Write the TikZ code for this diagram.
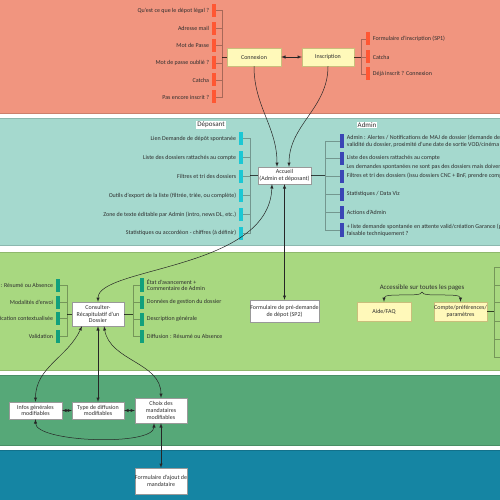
\documentclass[tikz,border=0pt]{standalone}
\usepackage{fontspec}
\setmainfont{Carlito}
\definecolor{saumon}{HTML}{F1957F}
\definecolor{turquoise}{HTML}{A5D9CE}
\definecolor{vertclair}{HTML}{A8D880}
\definecolor{vertfonce}{HTML}{56A878}
\definecolor{bleufond}{HTML}{1585A3}
\definecolor{repRouge}{HTML}{FF5733}
\definecolor{repCyan}{HTML}{1BC8D4}
\definecolor{repBleu}{HTML}{3A45B5}
\definecolor{repVert}{HTML}{12A07C}
\definecolor{jaunefond}{HTML}{FFF9BA}
\definecolor{jaunebord}{HTML}{C9BE7C}
\definecolor{texte}{HTML}{2E2E2E}
\begin{document}
\begin{tikzpicture}[x=1pt,y=1pt]
\tikzstyle{every node}=[font=\fontsize{6}{6.8}\selectfont,text=texte,inner sep=0pt,align=center]
\tikzstyle{every label}=[inner sep=2.5pt,align=left]
\tikzstyle{bloc}=[draw=black!40,fill=white,minimum width=53pt,minimum height=17pt]
\tikzstyle{jaune}=[draw=jaunebord,fill=jaunefond,minimum width=54pt,minimum height=18pt]
\tikzstyle{rep}=[minimum width=4pt,minimum height=13pt]
\tikzstyle{titre}=[fill=white,inner sep=1pt,font=\fontsize{7}{8}\selectfont]
\tikzstyle{lien}=[draw=black,draw opacity=0.3,line width=0.5pt]
\tikzstyle{tige}=[draw=black,draw opacity=0.7,line width=0.5pt]
\tikzstyle{fl}=[>=latex,line width=0.5pt,black!85]
\clip (0,0) rectangle (500,-500);
\fill[white] (0,0) rectangle (500,-500);

% bandes
\draw[fill=saumon,draw=saumon!85!black,line width=0.6pt] (-2,2) rectangle (502,-113);
\draw[fill=turquoise,draw=turquoise!85!black,line width=0.6pt] (-2,-118) rectangle (502,-245);
\draw[fill=vertclair,draw=vertclair!85!black,line width=0.6pt] (-2,-252) rectangle (502,-370);
\draw[fill=vertfonce,draw=vertfonce!85!black,line width=0.6pt] (-2,-375) rectangle (502,-445);
\draw[fill=bleufond,draw=bleufond!85!black,line width=0.6pt] (-2,-450) rectangle (502,-502);

% connexion / inscription
\draw (254,-57) node (cnx) [jaune] {Connexion};
\draw (328,-57) node (ins) [jaune,minimum width=52pt] {Inscription};
\draw [fl,<->] (cnx) -- (ins);

\draw (214,-10.5) node (c1) [rep,fill=repRouge,label={left:{Qu'est ce que le dépot légal ?}}] {};
\draw (214,-28.5) node (c2) [rep,fill=repRouge,label={left:{Adresse mail}}] {};
\draw (214,-45.5) node (c3) [rep,fill=repRouge,label={left:{Mot de Passe}}] {};
\draw (214,-63) node (c4) [rep,fill=repRouge,label={left:{Mot de passe oublié ?}}] {};
\draw (214,-80) node (c5) [rep,fill=repRouge,label={left:{Catcha}}] {};
\draw (214,-97) node (c6) [rep,fill=repRouge,label={left:{Pas encore inscrit ?}}] {};
\coordinate (jc) at (222,-57);
\draw [tige] (jc) -- (cnx.west);
\draw [lien] (c1.east) -| (jc) (c2.east) -| (jc) (c3.east) -| (jc) (c4.east) -| (jc) (c5.east) -| (jc) (c6.east) -| (jc);

\draw (368,-39) node (i1) [rep,fill=repRouge,label={right:{Formulaire d'inscription (SP1)}}] {};
\draw (368,-57) node (i2) [rep,fill=repRouge,label={right:{Catcha}}] {};
\draw (368,-74) node (i3) [rep,fill=repRouge,label={right:{Déjà inscrit ? Connexion}}] {};
\coordinate (ji) at (361,-57);
\draw [tige] (ins.east) -- (ji);
\draw [lien] (i1.west) -| (ji) (i2.west) -| (ji) (i3.west) -| (ji);

% accueil
\draw (284.5,-175.5) node (acc) [bloc] {Accueil\\(Admin et déposant)};
\draw [fl,->] (cnx.south) to [out=-90,in=90] ([xshift=-7.5pt]acc.north);
\draw [fl,->] (ins.south) to [out=-90,in=90] ([xshift=4.5pt]acc.north);
\draw (211,-125) node (dep) [titre] {Déposant};
\draw (367,-125) node (adm) [titre] {Admin};

\draw (241,-138.5) node (d1) [rep,fill=repCyan,label={left:{Lien Demande de dépôt spontanée}}] {};
\draw (241,-157.5) node (d2) [rep,fill=repCyan,label={left:{Liste des dossiers rattachés au compte}}] {};
\draw (241,-176.5) node (d3) [rep,fill=repCyan,label={left:{Filtres et tri des dossiers}}] {};
\draw (241,-195.5) node (d4) [rep,fill=repCyan,label={left:{Outils d'export de la liste (filtrée, triée, ou complète)}}] {};
\draw (241,-214.5) node (d5) [rep,fill=repCyan,label={left:{Zone de texte éditable par Admin (intro, news DL, etc.)}}] {};
\draw (241,-233) node (d6) [rep,fill=repCyan,label={left:{Statistiques ou accordéon - chiffres (à définir)}}] {};
\coordinate (jd) at (250,-175.5);
\draw [tige] (jd) -- (acc.west);
\draw [lien] (d1.east) -| (jd) (d2.east) -| (jd) (d3.east) -| (jd) (d4.east) -| (jd) (d5.east) -| (jd) (d6.east) -| (jd);

\draw (342,-141) node (a1) [rep,fill=repBleu,minimum height=14pt,label={right:{Admin : Alertes / Notifications de MAJ de dossier (demande de dépôt\\validité du dossier, proximité d'une date de sortie VOD/cinéma d'un}}] {};
\draw (342,-158) node (a2) [rep,fill=repBleu,label={right:{Liste des dossiers rattachés au compte}}] {};
\draw (344,-167) node (a0) [anchor=west,inner sep=2.5pt] {Les demandes spontanées ne sont pas des dossiers mais doivent apparaître};
\draw (342,-176) node (a3) [rep,fill=repBleu,label={right:{Filtres et tri des dossiers (issu dossiers CNC + BnF, prendre compte}}] {};
\draw (342,-194) node (a4) [rep,fill=repBleu,label={right:{Statistiques / Data Viz}}] {};
\draw (342,-212) node (a5) [rep,fill=repBleu,label={right:{Actions d'Admin}}] {};
\draw (342,-230) node (a6) [rep,fill=repBleu,minimum height=14pt,label={right:{+ liste demande spontanée en attente valid/création Garance (pour\\faisable techniquement ?}}] {};
\coordinate (ja) at (325,-175.5);
\draw [tige] (acc.east) -- (ja);
\draw [lien] (a1.west) -| (ja) (a2.west) -| (ja) (a3.west) -| (ja) (a4.west) -| (ja) (a5.west) -| (ja) (a6.west) -| (ja);

% pages
\draw (284.5,-311) node (sp2) [bloc,minimum width=67pt,minimum height=22pt] {Formulaire de pré-demande\\de dépot (SP2)};
\draw [fl,<->] (acc.south) -- (sp2.north);
\draw (422,-287.5) node (acs) [font=\fontsize{6.8}{8}\selectfont] {Accessible sur toutes les pages};
\draw (384,-311.5) node (aide) [jaune,minimum height=19pt] {Aide/FAQ};
\draw (460.5,-311.5) node (cpt) [jaune,minimum width=53pt,minimum height=19pt] {Compte/préférences/\\paramètres};
\coordinate (pointe) at (422,-292);
\draw [fl,->] (pointe) .. controls (422,-298) and (384,-292) .. (aide.north);
\draw [fl,->] (pointe) .. controls (422,-298) and (460.5,-292) .. (cpt.north);
\coordinate (jr) at (494,-311.5);
\draw [tige] (cpt.east) -- (jr);
\coordinate (r1) at (502,-267);
\coordinate (r2) at (502,-285);
\coordinate (r3) at (502,-302.5);
\coordinate (r4) at (502,-321);
\coordinate (r5) at (502,-339);
\coordinate (r6) at (502,-357);
\draw [lien] (r1) -| (jr) (r2) -| (jr) (r3) -| (jr) (r4) -| (jr) (r5) -| (jr) (r6) -| (jr);

% dossier
\draw (98,-314) node (cons) [bloc,minimum width=52pt,minimum height=24pt] {Consulter-\\Récapitulatif d'un\\Dossier};
\draw [fl,<->] ([xshift=-12.5pt]acc.south) to [out=-92,in=90,out distance=86pt,in distance=35pt] (cons.north);

\draw (58,-285) node (g1) [rep,fill=repVert,label={left:{Diffusion : Résumé ou Absence}}] {};
\draw (58,-302) node (g2) [rep,fill=repVert,label={left:{Modalités d'envoi}}] {};
\draw (58,-318.5) node (g3) [rep,fill=repVert,label={left:{Justification contextualisée}}] {};
\draw (58,-336) node (g4) [rep,fill=repVert,label={left:{Validation}}] {};
\coordinate (jg) at (67,-314);
\draw [tige] (jg) -- (cons.west);
\draw [lien] (g1.east) -| (jg) (g2.east) -| (jg) (g3.east) -| (jg) (g4.east) -| (jg);

\draw (142,-285) node (h1) [rep,fill=repVert,minimum height=14pt,label={right:{État d'avancement +\\Commentaire de Admin}}] {};
\draw (142,-302) node (h2) [rep,fill=repVert,label={right:{Données de gestion du dossier}}] {};
\draw (142,-319) node (h3) [rep,fill=repVert,label={right:{Description générale}}] {};
\draw (142,-336) node (h4) [rep,fill=repVert,label={right:{Diffusion : Résumé ou Absence}}] {};
\coordinate (jh) at (133,-314);
\draw [tige] (cons.east) -- (jh);
\draw [lien] (h1.west) -| (jh) (h2.west) -| (jh) (h3.west) -| (jh) (h4.west) -| (jh);

% modifications
\draw (35.5,-410.5) node (inf) [bloc] {Infos générales\\modifiables};
\draw (98,-410.5) node (typ) [bloc,minimum width=52pt] {Type de diffusion\\modifiables};
\draw (161,-410.5) node (cho) [bloc,minimum width=52pt,minimum height=25pt] {Choix des\\mandataires\\modifiables};
\draw (161,-481) node (ajt) [bloc,minimum width=52pt,minimum height=26pt] {Formulaire d'ajout de\\mandataire};
\draw [fl,<->] (inf) -- (typ);
\draw [fl,<->] (typ) -- (cho);
\draw [fl,<->] ([xshift=-16pt]cons.south) to [out=-115,in=90] (inf.north);
\draw [fl,<->] (cons.south) -- (typ.north);
\draw [fl,<->] ([xshift=6pt]cons.south) to [out=-80,in=90] (cho.north);
\draw [fl,<->] (inf.south) to [out=-90,in=-90,looseness=0.5] ([xshift=-7pt]cho.south);
\draw [fl,<->] (cho.south) -- (ajt.north);
\end{tikzpicture}
\end{document}
